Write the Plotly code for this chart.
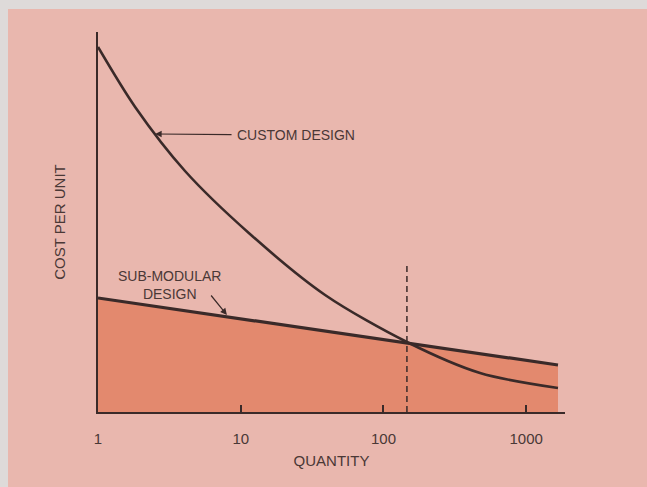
import math
import plotly.graph_objects as go

# ---- data ----
custom_qty = [1, 1.82, 4.07, 11.6, 39, 146, 475, 1670]
custom_cost = [365, 305, 241, 178, 117, 70, 39, 24]

submod_qty = [1, 146, 1670]
submod_cost = [114, 69, 47]

breakeven_qty = [146, 146]
breakeven_cost = [0, 147]

tick_vals = [1, 10, 100, 1000]
tick_text = ["1", "10", "100", "1000"]

# ---- styles ----
PINK = "#e9b7ae"
GRAY = "#dedad9"
FILL = "#e3896e"
INK = "#3a2a29"
TXT = "#4a3836"
FONT = "Liberation Sans"

fig = go.Figure()

fig.add_trace(go.Scatter(
    x=submod_qty, y=submod_cost, mode="lines",
    line=dict(color=INK, width=3.2),
    fill="tozeroy", fillcolor=FILL, hoverinfo="skip", showlegend=False))

fig.add_trace(go.Scatter(
    x=custom_qty, y=custom_cost, mode="lines",
    line=dict(color=INK, width=2.6, shape="spline", smoothing=0.85),
    hoverinfo="skip", showlegend=False))

fig.add_trace(go.Scatter(
    x=breakeven_qty, y=breakeven_cost, mode="lines",
    line=dict(color=INK, width=1.5, dash="6px,4px"),
    hoverinfo="skip", showlegend=False))

W, H = 647, 487
L, R, T, B = 98, 82, 32, 75
pw, ph = W - L - R, H - T - B

def px(xp):  # pixel x -> paper
    return (xp - L) / pw

def py(yp):  # pixel y -> paper
    return (H - B - yp) / ph

shapes = [
    dict(type="rect", xref="paper", yref="paper", layer="below",
         x0=px(0), x1=px(W), y0=py(9), y1=py(0), fillcolor=GRAY, line_width=0),
    dict(type="rect", xref="paper", yref="paper", layer="below",
         x0=px(0), x1=px(8), y0=py(H), y1=py(0), fillcolor=GRAY, line_width=0),
]

annotations = [
    # custom design label + arrow
    dict(x=math.log10(2.51), y=278, xref="x", yref="y", text="CUSTOM DESIGN",
         showarrow=True, ax=141, ay=1, arrowhead=2, arrowsize=1.1, arrowwidth=1.2,
         arrowcolor=INK, borderpad=5, font=dict(family=FONT, size=14, color=TXT)),
    # sub-modular label
    dict(x=px(169), y=py(285), xref="paper", yref="paper",
         xanchor="center", yanchor="middle",
         text="SUB-MODULAR<br>DESIGN", showarrow=False, align="center",
         font=dict(family=FONT, size=14, color=TXT)),
    dict(x=math.log10(8.0), y=97, xref="x", yref="y", text="",
         showarrow=True, ax=-17, ay=-21, arrowhead=2, arrowsize=1.1,
         arrowwidth=1.2, arrowcolor=INK),
]

fig.update_layout(
    width=W, height=H,
    margin=dict(l=L, r=R, t=T, b=B),
    paper_bgcolor=PINK, plot_bgcolor=PINK,
    shapes=shapes, annotations=annotations,
    font=dict(family=FONT, color=TXT),
    xaxis=dict(type="log", range=[0, math.log10(1870)],
               showline=True, linecolor=INK, linewidth=1.6,
               showgrid=False, zeroline=False,
               ticks="inside", ticklen=7, tickwidth=1.6, tickcolor=INK,
               tickvals=tick_vals, ticktext=tick_text, ticklabelstandoff=12,
               tickfont=dict(family=FONT, size=15, color=TXT),
               title=dict(text="QUANTITY", standoff=10,
                          font=dict(family=FONT, size=15, color=TXT))),
    yaxis=dict(range=[0, 380], showline=True, linecolor=INK, linewidth=1.6,
               showgrid=False, zeroline=False, showticklabels=False, ticks="",
               title=dict(text="COST PER UNIT", standoff=27,
                          font=dict(family=FONT, size=15, color=TXT))),
)

fig.write_html(
    "out.html",
    config={"displayModeBar": False},
    post_script="document.body.style.margin='0px';document.body.style.overflow='hidden';",
)
